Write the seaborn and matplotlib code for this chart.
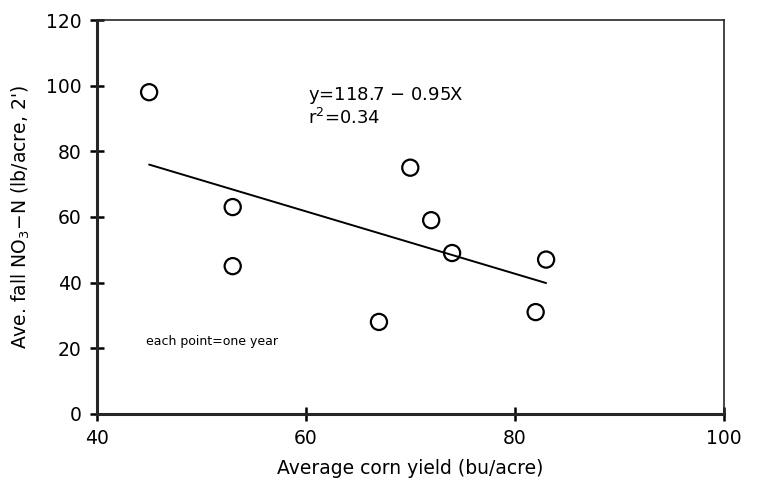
import pandas as pd
import seaborn as sns
import matplotlib
matplotlib.use("Agg")
import matplotlib.pyplot as plt
import numpy as np

# data (each point = one year)
corn_yield = [45, 53, 53, 67, 70, 72, 74, 83, 82]
fall_no3 = [98, 63, 45, 28, 75, 59, 49, 47, 31]
intercept = 118.7
slope = -0.95

df = pd.DataFrame({"yield": corn_yield, "no3": fall_no3})

sns.set_style("ticks")
plt.rcParams['font.family'] = ['DejaVu Sans']
plt.rcParams['text.color'] = 'black'
plt.rcParams['axes.labelcolor'] = 'black'

fig = plt.figure(figsize=(7.57, 4.88), dpi=100)
ax = fig.add_axes([0.128, 0.152, 0.828, 0.807])

sns.scatterplot(data=df, x="yield", y="no3", ax=ax, s=135, marker="o",
                facecolor="none", edgecolor="black", linewidth=1.6)

# fitted line over the range of the data
xl = np.array([df["yield"].min(), df["yield"].max()])
line = pd.DataFrame({"x": xl, "y": intercept + slope * xl})
sns.lineplot(data=line, x="x", y="y", ax=ax, color="black", linewidth=1.4)

ax.set_xlim(40, 100)
ax.set_ylim(0, 120)
ax.set_xticks([40, 60, 80, 100])
ax.set_yticks([0, 20, 40, 60, 80, 100, 120])
ax.tick_params(direction="inout", length=10, width=1.8, labelsize=13.5, colors="black")
ax.tick_params(axis="x", pad=6)
ax.tick_params(axis="y", pad=6)

for s in ["left", "bottom"]:
    ax.spines[s].set_linewidth(2.2)
for s in ["top", "right"]:
    ax.spines[s].set_linewidth(1.2)

ax.set_xlabel("Average corn yield (bu/acre)", fontsize=13.5, labelpad=8)
ax.set_ylabel("Ave. fall NO$_3$$-$N (lb/acre, 2')", fontsize=13.5, labelpad=10)

ax.text(60.2, 95.5, "y=118.7 $-$ 0.95X", fontsize=13, ha="left", va="baseline")
ax.text(60.2, 88.2, "r$^2$=0.34", fontsize=13, ha="left", va="baseline")
ax.text(44.7, 22, "each point=one year", fontsize=9, ha="left", va="center")

fig.savefig("out.png", dpi=100)
